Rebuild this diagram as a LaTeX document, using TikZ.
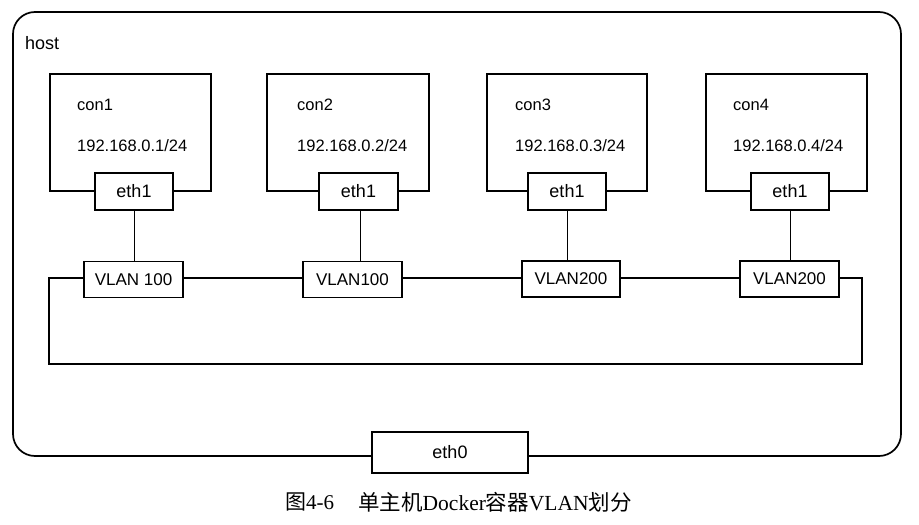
\documentclass[tikz,border=0pt]{standalone}
\usepackage{fontspec}
\setmainfont{Liberation Sans}
\newfontfamily\capserif{Liberation Serif}
\newfontfamily\cjk{Noto Sans CJK SC}
\begin{document}
\begin{tikzpicture}[x=1pt,y=-1pt,
  thick line/.style={line width=1.7pt},
  thin line/.style={line width=0.9pt},
  conbox/.style={draw,thick line},
  ethbox/.style={draw,thick line,fill=white,inner sep=0pt},
  lbl/.style={font=\fontsize{16.5}{18}\selectfont,anchor=west,inner sep=0pt},
  boxtxt/.style={font=\fontsize{17}{19}\selectfont}
]
\useasboundingbox (0,0) rectangle (919,525);
% host
\draw[thick line,rounded corners=22pt] (13,12) rectangle (901,456);
\node[lbl,font=\fontsize{18}{20}\selectfont] (host) at (25,43) {host};
% containers
\foreach \n/\l/\r/\tx/\el/\er in {1/50/211/77/95/173, 2/267/429/297/319/398, 3/487/647/515/528/606, 4/706/867/733/751/829}{
  \draw[conbox] (\l,74) rectangle (\r,191);
  \node[lbl] (con\n) at (\tx,105) {con\n};
  \node[lbl] (ip\n) at (\tx,146) {192.168.0.\n/24};
  \node[ethbox,font=\fontsize{18}{20}\selectfont,minimum width={\er-\el},minimum height=37] (e\n) at ({(\el+\er)/2},191.5) {eth1};
}
% VLAN nodes
\node[ethbox,boxtxt,minimum width=99,minimum height=36] (v1) at (133.5,279.5) {VLAN 100};
\node[ethbox,boxtxt,minimum width=99,minimum height=36] (v2) at (352.5,279.5) {VLAN100};
\node[ethbox,boxtxt,minimum width=98,minimum height=36] (v3) at (571,279) {VLAN200};
\node[ethbox,boxtxt,minimum width=99,minimum height=36] (v4) at (789.5,279) {VLAN200};
% eth1 to VLAN
\draw[thin line] (e1.south) -- (e1.south |- v1.north);
\draw[thin line] (360,210) coordinate (c2) -- (c2 |- v2.north);
\draw[thin line] (e3.south) -- (e3.south |- v3.north);
\draw[thin line] (790,210) coordinate (c4) -- (c4 |- v4.north);
% VLAN chain
\draw[thick line] (v1.east |- 0,278) -- (v2.west |- 0,278);
\draw[thick line] (v2.east |- 0,278) -- (v3.west |- 0,278);
\draw[thick line] (v3.east |- 0,278) -- (v4.west |- 0,278);
\draw[thick line] (v1.west |- 0,278) -- (49,278) -- (49,364) -- (862,364) -- (862,278) -- (v4.east |- 0,278);
% eth0
\node[ethbox,font=\fontsize{18}{20}\selectfont,minimum width=156,minimum height=41] (e0) at (450,452.5) {eth0};
% caption
\node[anchor=west,inner sep=0pt,font=\fontsize{21}{23}\selectfont] (fig) at (285,502) {\cjk 图\capserif 4-6};
\node[anchor=west,inner sep=0pt,font=\fontsize{21.5}{23}\selectfont] (cap) at (358,502) {\cjk 单主机\capserif Docker\cjk 容器\capserif VLAN\cjk 划分};
\end{tikzpicture}
\end{document}
